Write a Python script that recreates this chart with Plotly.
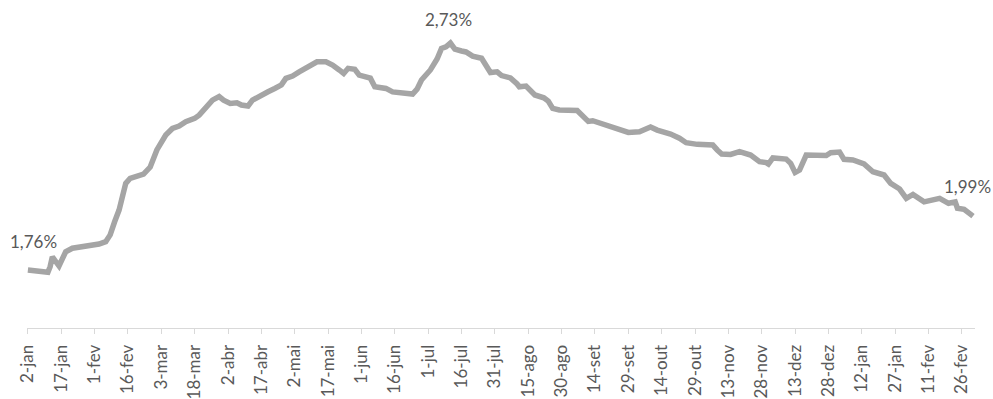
import plotly.graph_objects as go

# Days elapsed since 2-jan (first observation)
dias = [0, 2, 5, 9, 10, 11, 14, 17, 20, 26, 32, 35, 37, 39, 41, 44, 46, 52, 55, 58,
        62, 65, 68, 71, 75, 77, 80, 83, 86, 88, 91, 94, 96, 99, 101, 104, 108, 111, 114, 116,
        119, 122, 126, 130, 134, 137, 140, 142, 144, 147, 149, 154, 156, 161, 164, 171, 173, 175, 177, 181,
        184, 186, 188, 190, 192, 195, 197, 200, 204, 208, 211, 213, 217, 220, 221, 224, 228, 232, 234, 236,
        239, 247, 250, 252, 254, 259, 263, 267, 270, 275, 280, 283, 289, 293, 296, 301, 308, 310, 312, 316,
        320, 325, 329, 332, 333, 335, 341, 343, 345, 347, 350, 359, 361, 365, 367, 371, 376, 380, 385, 388,
        392, 395, 398, 403, 406, 410, 414, 417, 418, 421, 425]

taxa = [1.76, 1.757, 1.751, 1.75, 1.774, 1.816, 1.777, 1.838, 1.853, 1.86, 1.871, 1.881, 1.91, 1.966, 2.016, 2.13, 2.152, 2.17, 2.2, 2.273,
        2.337, 2.365, 2.375, 2.394, 2.408, 2.422, 2.451, 2.486, 2.501, 2.486, 2.472, 2.475, 2.465, 2.461, 2.486, 2.504, 2.522, 2.536, 2.551, 2.579,
        2.589, 2.607, 2.629, 2.65, 2.65, 2.636, 2.615, 2.6, 2.622, 2.618, 2.593, 2.58, 2.543, 2.536, 2.521, 2.514, 2.512, 2.533, 2.572, 2.615,
        2.662, 2.707, 2.714, 2.73, 2.704, 2.696, 2.692, 2.674, 2.665, 2.604, 2.607, 2.591, 2.581, 2.555, 2.543, 2.546, 2.508, 2.496, 2.482, 2.451,
        2.444, 2.442, 2.415, 2.395, 2.398, 2.384, 2.371, 2.362, 2.348, 2.351, 2.371, 2.358, 2.341, 2.323, 2.304, 2.297, 2.294, 2.273, 2.256, 2.254,
        2.266, 2.251, 2.223, 2.219, 2.213, 2.239, 2.234, 2.216, 2.177, 2.187, 2.251, 2.249, 2.261, 2.264, 2.233, 2.23, 2.213, 2.18, 2.166, 2.13,
        2.106, 2.066, 2.083, 2.051, 2.056, 2.066, 2.045, 2.051, 2.024, 2.019, 1.99]

tick_dias = list(range(0, 421, 15))
tick_labels = ["2-jan", "17-jan", "1-fev", "16-fev", "3-mar", "18-mar", "2-abr", "17-abr", "2-mai", "17-mai",
               "1-jun", "16-jun", "1-jul", "16-jul", "31-jul", "15-ago", "30-ago", "14-set", "29-set", "14-out",
               "29-out", "13-nov", "28-nov", "13-dez", "28-dez", "12-jan", "27-jan", "11-fev", "26-fev"]

# labelled points: (index into series, text, xshift, yshift)
rotulos = [(0, "1,76%", 6, 28), (63, "2,73%", -2, 24), (len(taxa) - 1, "1,99%", -6, 30)]

fig = go.Figure()
fig.add_trace(go.Scatter(x=dias, y=taxa, mode="lines",
                         line=dict(color="#A5A5A5", width=5.5),
                         hoverinfo="skip", showlegend=False))

for i, txt, xs, ys in rotulos:
    fig.add_annotation(x=dias[i], y=taxa[i], text=txt, showarrow=False,
                       xanchor="center", yanchor="middle", xshift=xs, yshift=ys,
                       font=dict(family="Lato", size=17, color="#595959"))

fig.update_layout(
    width=993, height=399,
    margin=dict(l=27, r=18, t=0, b=71),
    paper_bgcolor="white", plot_bgcolor="white",
    font=dict(family="Lato", size=17, color="#595959"),
    showlegend=False,
)
fig.update_xaxes(range=[-0.4, 425.9], tickmode="array", tickvals=tick_dias, ticktext=tick_labels,
                 tickangle=-90, showgrid=False, zeroline=False, showline=True,
                 linecolor="#D9D9D9", linewidth=1, ticks="outside", ticklen=5, tickcolor="#D9D9D9",
                 ticklabelstandoff=4,
                 tickfont=dict(family="Lato", size=17, color="#595959"), automargin=False)
fig.update_yaxes(range=[1.512, 2.914], visible=False, showgrid=False, zeroline=False)

fig.write_html("out.html")
